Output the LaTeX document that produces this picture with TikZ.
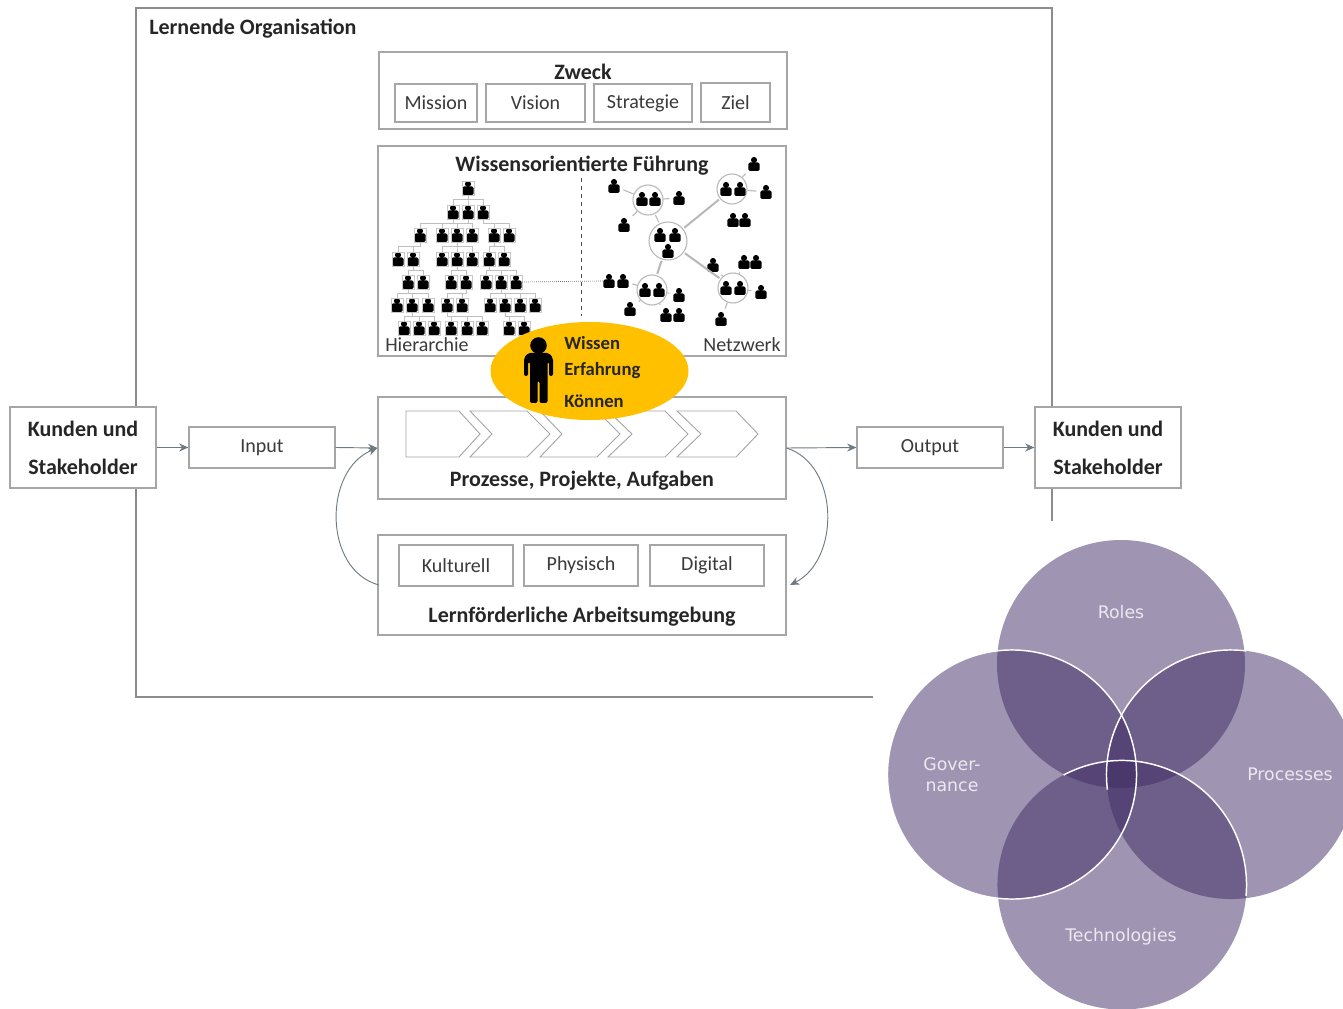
\documentclass[tikz,border=0pt]{standalone}
\usepackage{fontspec}
\setmainfont{Carlito}
\newfontfamily\vennfont{DejaVu Sans}
\usetikzlibrary{arrows.meta, shapes.geometric}
\definecolor{rahmen}{HTML}{A6A6A6}
\definecolor{pfeil}{HTML}{6F7B82}
\definecolor{schrift}{HTML}{3A3A3A}
\definecolor{gelb}{HTML}{FFC000}
\definecolor{lila}{HTML}{3F2A63}
\definecolor{vennschrift}{HTML}{ECE9F1}
\tikzset{wh/.style 2 args={minimum width=#1*0.75pt, minimum height=#2*0.75pt}}
\begin{document}
\begin{tikzpicture}[x=0.75pt,y=-0.75pt]
%Declaration of styles
	\tikzstyle{box} = [rectangle, draw=rahmen, line width=0.8pt, fill=white, inner sep=0pt, text=schrift, font=\fontsize{15}{18}\selectfont] %boxes
	\tikzstyle{titel} = [inner sep=0pt, text=black!85, font=\bfseries\fontsize{16.5}{20}\selectfont] %bold headings
	\tikzstyle{kunde} = [box, text=black!85, align=center, font=\bfseries\fontsize{16.5}{28.5}\selectfont] %customer boxes
	\tikzstyle{pfeilstil} = [draw=pfeil, line width=0.7pt, -{Stealth[length=7pt,width=6pt]}] %arrows
	\tikzstyle{schritt} = [draw=rahmen, line width=0.7pt, fill=white] %process chevrons
	\tikzstyle{kopf} = [rectangle, inner sep=0pt, minimum width=9pt, minimum height=10.5pt, path picture={
		\fill[black] ([yshift=3pt]path picture bounding box.center) circle (2.3pt);
		\fill[black, rounded corners=1.2pt] ([xshift=-4.3pt,yshift=-5.3pt]path picture bounding box.center) rectangle ([xshift=4.3pt,yshift=1.2pt]path picture bounding box.center);}] %small person
	\tikzstyle{hkopf} = [kopf, draw=black!22, line width=0.25pt]
	\tikzstyle{baumlinie} = [draw=black!25, line width=0.35pt] %tree lines
	\tikzstyle{hub} = [circle, draw=black!28, line width=0.8pt, fill=white, inner sep=0pt]
	\tikzstyle{netzdick} = [draw=black!28, line width=1.5pt, shorten >=1pt, shorten <=1pt]
	\tikzstyle{netzduenn} = [draw=black!28, line width=0.8pt, shorten >=2.5pt]
	\tikzstyle{venn} = [fill=lila, fill opacity=0.5]
	\tikzstyle{vennbogen} = [draw=white, line width=1.1pt]
	\tikzstyle{vennlabel} = [inner sep=0pt, align=center, text=vennschrift, font=\vennfont\fontsize{13}{15.5}\selectfont]
	\useasboundingbox (0,0) rectangle (1343,1009);
%Outer frame
	\node [titel, anchor=west] (organisation) at (149,29) {Lernende Organisation};
	\coordinate (rahmenA) at (873,697);
	\coordinate (rahmenB) at (1052,521);
	\draw [draw=black!45, line width=0.8pt] (rahmenA) -- (136,697) -- (136,8) -- (1052,8) -- (rahmenB);
%Zweck
	\node [box, wh={408}{77}] (zweck) at (583,90.5) {};
	\node [titel] (zwecktitel) at (583,72) {Zweck};
	\node [box, wh={82}{38}] (mission) at (436,103) {Mission};
	\node [box, wh={99}{38}] (vision) at (535.5,103) {Vision};
	\node [box, wh={98}{38}] (strategie) at (643,103) {Strategie};
	\node [box, wh={69}{39}] (ziel) at (735.5,102.5) {Ziel};
%Fuehrung
	\node [box, wh={408}{210}] (fuehrung) at (582,251) {};
	\node [titel] (fuehrungtitel) at (582,166) {Wissensorientierte Führung};
	\node [text=schrift, inner sep=0pt, anchor=west, font=\fontsize{15}{18}\selectfont] (hierarchie) at (385,345) {Hierarchie};
	\node [text=schrift, inner sep=0pt, anchor=east, font=\fontsize{15}{18}\selectfont] (netzwerk) at (781,345) {Netzwerk};
	\coordinate (trennA) at (581,178);
	\coordinate (trennB) at (581,316);
	\draw [draw=black!70, line width=0.5pt, dashed] (trennA) -- (trennB);
%Hierarchy
	\foreach \r/\y/\xs in {0/188/{468}, 1/212/{453,468,483}, 2/235/{420,442,457,472,494,509}, 3/259/{398,413,442,457,472,489,504}, 4/282/{408,423,451,466,486,501,516}, 5/305/{397,412,428,447,462,490,505,520,535}, 6/328/{404,419,434,451,467,482,509,524}}{
		\foreach \x [count=\c] in \xs {\node [hkopf] (h\r-\c) at (\x,\y) {};}
	}
	\foreach \p/\kinder in {h0-1/{h1-1,h1-2,h1-3}, h1-1/{h2-1}, h1-2/{h2-2,h2-3,h2-4}, h1-3/{h2-5,h2-6}, h2-1/{h3-1,h3-2}, h2-3/{h3-3,h3-4,h3-5}, h2-5/{h3-6,h3-7}, h3-2/{h4-1,h4-2}, h3-4/{h4-3,h4-4}, h3-6/{h4-5,h4-6,h4-7}, h4-1/{h5-1,h5-2,h5-3}, h4-4/{h5-4,h5-5}, h4-6/{h5-6,h5-7,h5-8,h5-9}, h5-2/{h6-1,h6-2,h6-3}, h5-4/{h6-4,h6-5,h6-6}, h5-7/{h6-7,h6-8}}{
		\foreach \k in \kinder {\draw [baumlinie] (\p.south) -- ++(0,4) -| (\k.north);}
	}
%Network
	\node [hub, minimum size=22.5pt] (hubA) at (648,200) {};
	\node [hub, minimum size=22.5pt] (hubB) at (732,189) {};
	\node [hub, minimum size=28.5pt] (hubC) at (668,241) {};
	\node [hub, minimum size=22.5pt] (hubD) at (652,290) {};
	\node [hub, minimum size=22.5pt] (hubE) at (733,288) {};
	\foreach \n/\x/\y in {a1/642/199, a2/655/199, b1/726/189, b2/740/189, c1/660/235, c2/675/235, c3/668/251, d1/645/290, d2/659/290, e1/726/288, e2/740/288, p1/754/164, p2/766/192, p3/733/220, p4/745/220, p5/614/186, p6/679/198, p7/624/225, p8/609/281, p9/623/281, p10/679/295, p11/630/309, p12/666/315, p13/679/315, p14/713/265, p15/744/262, p16/756/262, p17/761/292, p18/721/319}{
		\node [kopf] (\n) at (\x,\y) {};
	}
	\draw [netzdick] (hubC) -- (hubB);
	\draw [netzdick] (hubC) -- (hubE);
	\draw [netzdick] (hubC) -- (hubD);
	\draw [netzdick, line width=0.8pt] (hubC) -- (hubA);
	\foreach \a/\b in {hubA/p5, hubA/p6, hubA/p7, hubB/p1, hubB/p2, hubD/p9, hubD/p10, hubD/p11, hubD/p12, hubE/p14, hubE/p15, hubE/p17, hubE/p18}{
		\draw [netzduenn] (\a) -- (\b);
	}
	\draw [draw=black!55, line width=0.5pt, densely dotted] (h4-7.east) -- (p8.west);
%Process
	\node [box, wh={408}{102}] (prozess) at (582,448) {};
	\draw [schritt] (406,411) -- (459,411) -- (480,434) -- (459,457) -- (406,457) -- cycle;
	\foreach \a/\b/\c/\d in {470/527/550/492, 540/597/620/562, 608/665/688/632, 677/736/758/701}{
		\draw [schritt] (\a,411) -- (\b,411) -- (\c,434) -- (\b,457) -- (\a,457) -- (\d,434) -- cycle;
	}
	\node [titel] (prozesstitel) at (582,481) {Prozesse, Projekte, Aufgaben};
%Environment
	\node [box, wh={408}{100}] (umgebung) at (582,585) {};
	\node [box, wh={114}{41}] (kulturell) at (456,565.5) {Kulturell};
	\node [box, wh={114}{41}] (physisch) at (581,565.5) {Physisch};
	\node [box, wh={114}{41}] (digital) at (707,565.5) {Digital};
	\node [titel] (umgebungtitel) at (582,617) {Lernförderliche Arbeitsumgebung};
%Customers, input, output
	\node [kunde, wh={146}{81}] (kundenL) at (83,447.5) {Kunden und\\Stakeholder};
	\node [box, wh={146}{41}] (input) at (262,447.5) {Input};
	\node [box, wh={146}{41}] (output) at (930,447.5) {Output};
	\node [kunde, wh={146}{81}] (kundenR) at (1108,447.5) {Kunden und\\Stakeholder};
	\draw [pfeilstil] (kundenL) -- (input);
	\draw [pfeilstil] (input.east) -- (prozess.west);
	\draw [pfeilstil] (prozess.east) -- (output.west);
	\draw [pfeilstil] (output) -- (kundenR);
	\coordinate (umgebungL) at (379,585);
	\coordinate (umgebungR) at (790,585);
	\draw [pfeilstil] (umgebungL) .. controls (323,570) and (323,470) .. (prozess.west);
	\draw [pfeilstil] (prozess.east) .. controls (840,465) and (840,560) .. (umgebungR);
%Person
	\node [ellipse, fill=gelb, inner sep=0pt, minimum width=148.5pt, minimum height=73.5pt] (wissensfeld) at (589.5,371) {};
	\fill [black] (538.5,345.5) circle (6.2pt);
	\fill [black, rounded corners=1.5pt] (524,376) -- (524,358) -- (528,353) -- (549,353) -- (553,358) -- (553,376) -- (549,376) -- (549,362) -- (547.5,362) -- (547.5,403) -- (539.5,403) -- (539.5,381) -- (537.5,381) -- (537.5,403) -- (530,403) -- (530,362) -- (528,362) -- (528,376) -- cycle;
	\node [titel, anchor=west, font=\bfseries\fontsize{14}{17}\selectfont] (wissen) at (564,343) {Wissen};
	\node [titel, anchor=west, font=\bfseries\fontsize{14}{17}\selectfont] (erfahrung) at (564,371) {Erfahrung};
	\node [titel, anchor=west, font=\bfseries\fontsize{14}{17}\selectfont] (koennen) at (564,401) {Können};
%Venn
	\begin{scope}
		\clip (0,0) rectangle (1343,1009);
		\fill [venn] (1121,664) circle (93pt);
		\fill [venn] (1012,774.5) circle (93.4pt);
		\fill [venn] (1231,774.5) circle (93.4pt);
		\fill [venn] (1122,885) circle (93.4pt);
		\draw [vennbogen] (1012,774.5) circle (93.4pt);
		\draw [vennbogen] (1231,774.5) ++(83:93.4pt) arc[start angle=83, end angle=187, radius=93.4pt];
		\draw [vennbogen] (1122,885) ++(118:93.4pt) arc[start angle=118, end angle=-5, radius=93.4pt];
	\end{scope}
	\node [vennlabel] (roles) at (1121,612) {Roles};
	\node [vennlabel] (governance) at (952,775) {Gover-\\nance};
	\node [vennlabel] (processes) at (1290,774) {Processes};
	\node [vennlabel] (technologies) at (1121,937) {Technologies};
\end{tikzpicture}
\end{document}
